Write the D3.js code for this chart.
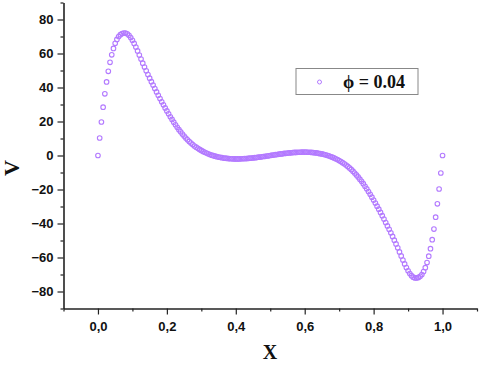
<!DOCTYPE html>
<html>
<head>
<meta charset="utf-8">
<script src="https://cdnjs.cloudflare.com/ajax/libs/d3/7.8.5/d3.min.js"></script>
<style>
  body { margin: 0; background: #fff; }
  .tickText { font-family: Arial, "Liberation Sans", sans-serif; font-weight: bold; font-size: 13px; fill: #111; }
  .aTitle { font-family: "Times New Roman", "Liberation Serif", serif; font-weight: bold; fill: #111; }
</style>
</head>
<body>
<div id="chart"></div>
<script>
// sampled curve, one point every 0.005 on X
var xStep = 0.005;
var vValues = [
  0, 10.3, 19.7, 28.4, 36.3, 43.3, 49.5, 54.8, 59.2, 63.0,
  66.0, 68.3, 70.0, 71.1, 71.7, 72.0, 72.0, 71.6, 70.7, 69.4,
  67.8, 65.9, 63.8, 61.5, 59.1, 56.7, 54.3, 52.0, 49.8, 47.6,
  45.5, 43.4, 41.4, 39.4, 37.4, 35.4, 33.5, 31.6, 29.8, 28.0,
  26.2, 24.5, 22.8, 21.2, 19.6, 18.1, 16.6, 15.2, 13.9, 12.6,
  11.4, 10.3, 9.2, 8.2, 7.3, 6.4, 5.6, 4.9, 4.2, 3.6,
  3.0, 2.4, 1.9, 1.4, 1.0, 0.6, 0.2, -0.1, -0.4, -0.7,
  -0.9, -1.1, -1.3, -1.5, -1.6, -1.7, -1.8, -1.9, -1.9, -2.0,
  -2.0, -2.0, -2.0, -1.9, -1.9, -1.8, -1.8, -1.7, -1.6, -1.5,
  -1.4, -1.3, -1.2, -1.0, -0.9, -0.8, -0.6, -0.5, -0.3, -0.2,
  0,
  0.2, 0.3, 0.5, 0.6, 0.8, 0.9, 1.0, 1.2, 1.3, 1.4,
  1.5, 1.6, 1.7, 1.8, 1.8, 1.9, 1.9, 2.0, 2.0, 2.0,
  2.0, 1.9, 1.9, 1.8, 1.7, 1.6, 1.5, 1.3, 1.1, 0.9,
  0.7, 0.4, 0.1, -0.2, -0.6, -1.0, -1.4, -1.9, -2.4, -3.0,
  -3.6, -4.2, -4.9, -5.6, -6.4, -7.3, -8.2, -9.2, -10.3, -11.4,
  -12.6, -13.9, -15.2, -16.6, -18.1, -19.6, -21.2, -22.8, -24.5, -26.2,
  -28.0, -29.8, -31.6, -33.5, -35.4, -37.4, -39.4, -41.4, -43.4, -45.5,
  -47.6, -49.8, -52.0, -54.3, -56.7, -59.1, -61.5, -63.8, -65.9, -67.8,
  -69.4, -70.7, -71.6, -72.0, -72.0, -71.7, -71.1, -70.0, -68.3, -66.0,
  -63.0, -59.2, -54.8, -49.5, -43.3, -36.3, -28.4, -19.7, -10.3, 0
];
var xMajor = [0, 0.2, 0.4, 0.6, 0.8, 1.0];
var xMinor = [-0.1, 0.1, 0.3, 0.5, 0.7, 0.9, 1.1];
var yMajor = [-80, -60, -40, -20, 0, 20, 40, 60, 80];
var yMinor = [-90, -70, -50, -30, -10, 10, 30, 50, 70, 90];
var legendLabel = "\u03D5 = 0.04";

var width = 480;
var height = 365;
var dotColor = "#b37aff";

var svg = d3.select("#chart")
  .append("svg")
  .attr("width", width)
  .attr("height", height);

var xScale = d3.scaleLinear().domain([-0.1, 1.1]).range([63.5, 477]);
var yScale = d3.scaleLinear().domain([-90, 90]).range([308.5, 2.5]);

var fmtX = function(d) { return d3.format(".1f")(d).replace(".", ","); };

// minor ticks first, then major with labels
svg.append("g")
  .attr("transform", "translate(0,308.5)")
  .call(d3.axisBottom(xScale).tickValues(xMinor).tickSize(3).tickFormat(""))
  .call(function(g) { g.select(".domain").remove(); });
svg.append("g")
  .attr("transform", "translate(63.5,0)")
  .call(d3.axisLeft(yScale).tickValues(yMinor).tickSize(3).tickFormat(""))
  .call(function(g) { g.select(".domain").remove(); });

var xAxis = svg.append("g")
  .attr("transform", "translate(0,308.5)")
  .call(d3.axisBottom(xScale).tickValues(xMajor).tickSize(6).tickSizeOuter(0).tickPadding(7).tickFormat(fmtX));
var yAxis = svg.append("g")
  .attr("transform", "translate(63.5,0)")
  .call(d3.axisLeft(yScale).tickValues(yMajor).tickSize(6).tickSizeOuter(0).tickPadding(4));

svg.selectAll(".tick line").attr("stroke", "#222").attr("stroke-width", 1.2);
svg.selectAll(".domain").attr("stroke", "#222").attr("stroke-width", 1.6);
svg.selectAll(".tick text").attr("class", "tickText");

svg.append("text")
  .attr("class", "aTitle")
  .attr("font-size", 22)
  .attr("text-anchor", "middle")
  .attr("transform", "translate(19,168)rotate(-90)")
  .text("V");

svg.append("text")
  .attr("class", "aTitle")
  .attr("font-size", 20)
  .attr("text-anchor", "middle")
  .attr("x", 270)
  .attr("y", 359)
  .text("X");

svg.append("g")
  .selectAll("circle")
  .data(vValues)
  .enter()
  .append("circle")
  .attr("cx", function(d, i) { return xScale(i * xStep); })
  .attr("cy", function(d) { return yScale(d); })
  .attr("r", 2.3)
  .attr("fill", "none")
  .attr("stroke", dotColor)
  .attr("stroke-width", 1.1);

var legend = svg.append("g").attr("transform", "translate(296,68.5)");
legend.append("rect")
  .attr("width", 122)
  .attr("height", 26)
  .attr("fill", "#fff")
  .attr("stroke", "#888")
  .attr("stroke-width", 1);
legend.append("circle")
  .attr("cx", 23.5)
  .attr("cy", 13.5)
  .attr("r", 2)
  .attr("fill", "none")
  .attr("stroke", dotColor)
  .attr("stroke-width", 1);
legend.append("text")
  .attr("class", "aTitle")
  .attr("font-size", 18)
  .attr("x", 47)
  .attr("y", 19)
  .text(legendLabel);
</script>
</body>
</html>
